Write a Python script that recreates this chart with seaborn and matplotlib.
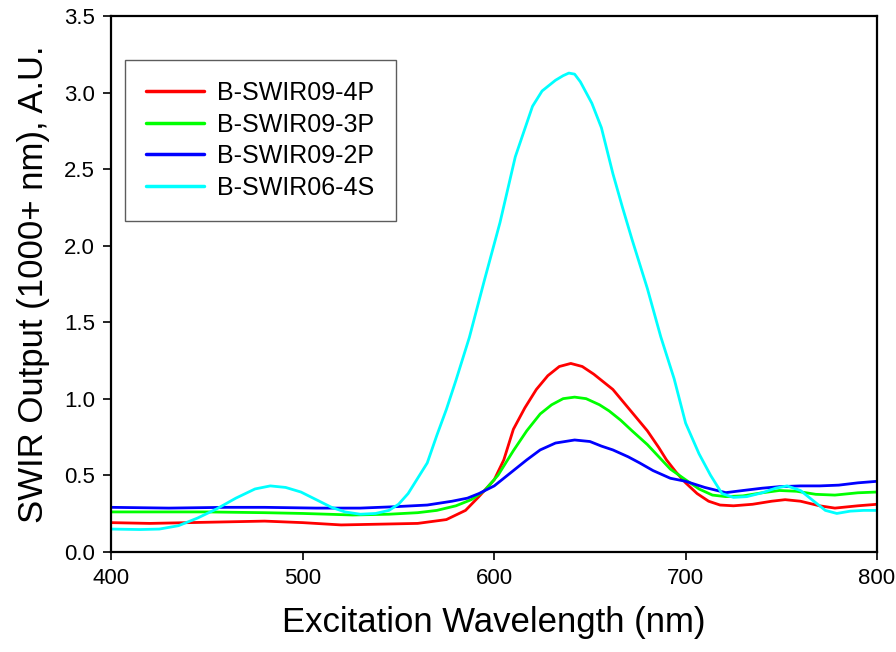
import seaborn as sns
import numpy as np
import pandas as pd
import matplotlib.pyplot as plt

# spectra (wavelength nm, SWIR output A.U.)
red_x = [400, 420, 440, 460, 480, 500, 520, 540, 560, 575, 585, 592, 600, 605, 610, 616, 622, 628,
         634, 640, 646, 652, 657, 662, 668, 674, 680, 686, 690, 695, 700, 706, 712, 718, 725, 735,
         745, 752, 760, 770, 778, 790, 800]
red_y = [0.19, 0.185, 0.19, 0.195, 0.20, 0.19, 0.175, 0.18, 0.185, 0.21, 0.27, 0.36, 0.47, 0.60,
         0.80, 0.94, 1.06, 1.15, 1.21, 1.23, 1.21, 1.16, 1.11, 1.06, 0.97, 0.88, 0.79, 0.68, 0.60,
         0.52, 0.45, 0.38, 0.33, 0.305, 0.30, 0.31, 0.33, 0.34, 0.33, 0.30, 0.285, 0.30, 0.31]

green_x = [400, 420, 450, 480, 500, 526, 545, 560, 570, 580, 588, 595, 602, 610, 617, 624, 630,
           636, 642, 648, 655, 660, 666, 672, 680, 686, 692, 700, 707, 714, 721, 730, 740, 749,
           758, 768, 778, 790, 800]
green_y = [0.26, 0.26, 0.26, 0.255, 0.25, 0.24, 0.245, 0.255, 0.27, 0.30, 0.34, 0.40, 0.50, 0.66,
           0.79, 0.90, 0.96, 1.00, 1.01, 1.00, 0.96, 0.92, 0.86, 0.79, 0.70, 0.62, 0.54, 0.47,
           0.41, 0.37, 0.36, 0.365, 0.385, 0.40, 0.395, 0.375, 0.37, 0.385, 0.39]

blue_x = [400, 430, 460, 480, 507, 530, 548, 565, 578, 586, 592, 600, 610, 617, 624, 632, 642,
          650, 656, 662, 670, 676, 683, 692, 700, 710, 721, 730, 740, 749, 760, 770, 780, 790, 800]
blue_y = [0.29, 0.285, 0.29, 0.29, 0.285, 0.285, 0.294, 0.305, 0.33, 0.35, 0.38, 0.43, 0.53,
          0.60, 0.665, 0.71, 0.73, 0.72, 0.69, 0.665, 0.62, 0.58, 0.53, 0.48, 0.46, 0.42, 0.386,
          0.40, 0.415, 0.425, 0.43, 0.43, 0.435, 0.45, 0.46]

cyan_x = [400, 415, 425, 435, 445, 455, 465, 475, 483, 491, 499, 507, 515, 522, 530, 538, 545,
          550, 555, 560, 565, 570, 575, 580, 587, 595, 603, 611, 620, 625, 632, 636, 639, 642,
          645, 651, 656, 662, 667, 672, 680, 687, 694, 700, 707, 713, 719, 725, 732, 740, 747,
          753, 760, 767, 773, 779, 786, 793, 800]
cyan_y = [0.148, 0.145, 0.148, 0.17, 0.22, 0.28, 0.35, 0.41, 0.43, 0.42, 0.39, 0.34, 0.29, 0.26,
          0.245, 0.25, 0.27, 0.31, 0.38, 0.48, 0.58, 0.76, 0.93, 1.12, 1.40, 1.78, 2.15, 2.58,
          2.91, 3.01, 3.08, 3.11, 3.127, 3.12, 3.07, 2.93, 2.77, 2.47, 2.25, 2.04, 1.72, 1.405,
          1.13, 0.84, 0.64, 0.50, 0.38, 0.355, 0.36, 0.385, 0.415, 0.43, 0.40, 0.33, 0.27,
          0.25, 0.265, 0.27, 0.27]

names = ["B-SWIR09-4P", "B-SWIR09-3P", "B-SWIR09-2P", "B-SWIR06-4S"]
colors = ["#ff0000", "#00ff00", "#0000ff", "#00ffff"]

frames = []
for name, xs, ys in zip(names, [red_x, green_x, blue_x, cyan_x], [red_y, green_y, blue_y, cyan_y]):
    frames.append(pd.DataFrame({"wl": xs, "out": ys, "sample": name}))
df = pd.concat(frames, ignore_index=True)

sns.set_style("white")
plt.rcParams["font.family"] = ["Liberation Sans", "DejaVu Sans"]
plt.rcParams["text.color"] = "black"
plt.rcParams["axes.labelcolor"] = "black"

fig = plt.figure(figsize=(8.96, 6.52), dpi=100)
ax = fig.add_axes([0.1244, 0.1538, 0.8544, 0.8217])

sns.lineplot(data=df, x="wl", y="out", hue="sample", hue_order=names,
             palette=dict(zip(names, colors)), linewidth=2.0, ax=ax)

ax.set_xlim(400, 800)
ax.set_ylim(0, 3.5)
ax.set_xticks([400, 500, 600, 700, 800])
ax.set_yticks(np.arange(0, 3.51, 0.5))
ax.set_yticklabels([f"{v:.1f}" for v in np.arange(0, 3.51, 0.5)])
ax.tick_params(axis="both", direction="out", length=6, width=1.2, labelsize=16,
               colors="black", left=True, bottom=True, pad=6)
for s in ax.spines.values():
    s.set_color("black")
    s.set_linewidth(1.6)

ax.set_xlabel("Excitation Wavelength (nm)", fontsize=25, labelpad=12)
ax.set_ylabel("SWIR Output (1000+ nm), A.U.", fontsize=25, labelpad=10)

leg = ax.legend(loc="upper left", bbox_to_anchor=(0.0176, 0.918), fontsize=18,
                frameon=True, fancybox=False, handlelength=2.3, labelspacing=0.3,
                borderpad=0.85, handletextpad=0.55, borderaxespad=0)
leg.get_frame().set_edgecolor("#333333")
leg.get_frame().set_linewidth(1.0)
for line in leg.get_lines():
    line.set_linewidth(2.5)

fig.savefig("out.png", dpi=100)
